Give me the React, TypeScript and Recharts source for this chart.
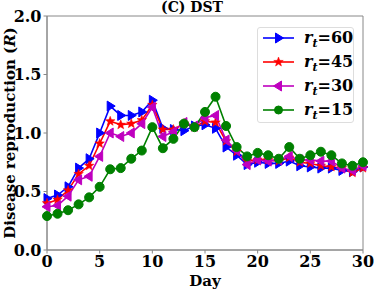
import { LineChart, Line, XAxis, YAxis, ReferenceArea } from 'recharts';

const days = Array.from({ length: 31 }, (_, i) => i);

const r60 = [0.44, 0.47, 0.54, 0.70, 0.78, 1.00, 1.23, 1.15, 1.15, 1.18, 1.28, 1.04, 1.03, 1.02, 1.06, 1.07, 1.04, 0.88, 0.81, 0.73, 0.75, 0.74, 0.74, 0.76, 0.72, 0.71, 0.70, 0.70, 0.68, 0.67, 0.71];
const r45 = [0.40, 0.43, 0.51, 0.65, 0.72, 0.91, 1.10, 1.07, 1.08, 1.11, 1.24, 1.03, 1.03, 1.08, 1.05, 1.10, 1.09, 0.93, 0.84, 0.76, 0.77, 0.77, 0.76, 0.79, 0.75, 0.74, 0.72, 0.71, 0.70, 0.66, 0.70];
const r30 = [0.37, 0.38, 0.46, 0.60, 0.63, 0.80, 1.00, 0.97, 1.00, 1.08, 1.22, 0.97, 1.01, 1.09, 1.06, 1.13, 1.15, 0.94, 0.85, 0.73, 0.77, 0.76, 0.77, 0.80, 0.77, 0.77, 0.76, 0.76, 0.70, 0.68, 0.72];
const r15 = [0.29, 0.31, 0.34, 0.39, 0.45, 0.54, 0.69, 0.70, 0.78, 0.85, 1.05, 0.87, 0.95, 1.08, 1.05, 1.18, 1.31, 1.06, 0.88, 0.80, 0.83, 0.81, 0.78, 0.88, 0.78, 0.81, 0.84, 0.81, 0.74, 0.72, 0.75];

const xTicks = [0, 5, 10, 15, 20, 25, 30];
const yTicks = [0, 0.5, 1.0, 1.5, 2.0];

const data = days.map((d, i) => ({ day: d, r60: r60[i], r45: r45[i], r30: r30[i], r15: r15[i] }));

const FONT = '"DejaVu Serif", serif';

type Shape = 'right' | 'star' | 'left' | 'circle';

const Marker = ({ cx, cy, color, shape, s = 5 }: { cx: number; cy: number; color: string; shape: Shape; s?: number }) => {
  if (cx == null || cy == null) return null;
  if (shape === 'circle') return <circle cx={cx} cy={cy} r={s - 0.5} fill={color} stroke={color} />;
  if (shape === 'right') {
    return <polygon points={`${cx + s},${cy} ${cx - s * 0.6},${cy - s} ${cx - s * 0.6},${cy + s}`} fill={color} stroke={color} />;
  }
  if (shape === 'left') {
    return <polygon points={`${cx - s},${cy} ${cx + s * 0.6},${cy - s} ${cx + s * 0.6},${cy + s}`} fill={color} stroke={color} />;
  }
  const pts: string[] = [];
  for (let k = 0; k < 10; k++) {
    const a = -Math.PI / 2 + (k * Math.PI) / 5;
    const rr = k % 2 === 0 ? s : s * 0.42;
    pts.push(`${cx + rr * Math.cos(a)},${cy + rr * Math.sin(a)}`);
  }
  return <polygon points={pts.join(' ')} fill={color} stroke={color} strokeWidth={0.5} />;
};

const SERIES: { key: string; label: string; color: string; shape: Shape }[] = [
  { key: 'r60', label: '60', color: '#0000ff', shape: 'right' },
  { key: 'r45', label: '45', color: '#ff0000', shape: 'star' },
  { key: 'r30', label: '30', color: '#bf00bf', shape: 'left' },
  { key: 'r15', label: '15', color: '#008000', shape: 'circle' },
];

const YLabel = ({ viewBox }: any) => {
  const cy = viewBox ? viewBox.y + viewBox.height / 2 : 133;
  return (
    <text x={14.5} y={cy} transform={`rotate(-90, 14.5, ${cy})`} textAnchor="middle" fontFamily={FONT} fontWeight="bold" fontSize={15} fill="#000">
      Disease reproduction (<tspan fontStyle="italic">R</tspan>)
    </text>
  );
};

const ChartLegend = () => (
  <div style={{ position: 'absolute', left: 257, top: 27, width: 97, height: 96, border: '1px solid #dddddd', borderRadius: 3, background: 'rgba(255,255,255,0.8)', padding: '0 0 0 4px', boxSizing: 'border-box' }}>
    {SERIES.map((s, i) => (
      <div key={s.key} style={{ display: 'flex', alignItems: 'center', height: 24, marginTop: i === 0 ? -2 : 0 }}>
        <svg width={34} height={16} style={{ flex: 'none' }}>
          <line x1={1} y1={8} x2={32} y2={8} stroke={s.color} strokeWidth={1.6} />
          <Marker cx={16.5} cy={8} color={s.color} shape={s.shape} s={s.shape === 'circle' ? 4.5 : 5} />
        </svg>
        <span style={{ fontFamily: FONT, fontWeight: 'bold', fontSize: 16, marginLeft: 8, color: '#000', whiteSpace: 'nowrap', lineHeight: '16px' }}>
          <i>r</i><sub style={{ fontSize: 11, fontStyle: 'italic', lineHeight: 0 }}>t</sub>={s.label}
        </span>
      </div>
    ))}
  </div>
);

export default function App() {
  return (
    <div style={{ position: 'absolute', left: 0, top: 0, width: 374, height: 289, background: '#fff' }}>
      <LineChart width={374} height={289} data={data} margin={{ top: 16, right: 11, bottom: 0, left: 0 }}>
        <XAxis
          dataKey="day"
          type="number"
          domain={[0, 30]}
          ticks={xTicks}
          interval={0}
          height={39}
          tickSize={3.5}
          stroke="#888"
          tick={{ fill: '#000', fontFamily: FONT, fontWeight: 'bold', fontSize: 16 }}
          label={{ value: 'Day', position: 'insideBottom', offset: 3, fill: '#000', fontFamily: FONT, fontWeight: 'bold', fontSize: 15 }}
        />
        <YAxis
          type="number"
          domain={[0, 2]}
          ticks={yTicks}
          interval={0}
          width={47}
          tickSize={3.5}
          stroke="#888"
          tickFormatter={(v: number) => v.toFixed(1)}
          tick={{ fill: '#000', fontFamily: FONT, fontWeight: 'bold', fontSize: 16 }}
          label={<YLabel />}
        />
        <ReferenceArea x1={0} x2={30} y1={0} y2={2} fill="none" stroke="#888" strokeWidth={1} />
        {SERIES.map((s) => (
          <Line
            key={s.key}
            dataKey={s.key}
            stroke={s.color}
            strokeWidth={1.6}
            isAnimationActive={false}
            dot={(p: any) => <Marker key={`${s.key}-${p.index}`} cx={p.cx} cy={p.cy} color={s.color} shape={s.shape} />}
            activeDot={false}
          />
        ))}
      </LineChart>
      <div style={{ position: 'absolute', left: 0, width: 384, top: 0, textAlign: 'center', fontFamily: FONT, fontWeight: 'bold', fontSize: 14, lineHeight: '14px' }}>
        (C) DST
      </div>
      <ChartLegend />
    </div>
  );
}
